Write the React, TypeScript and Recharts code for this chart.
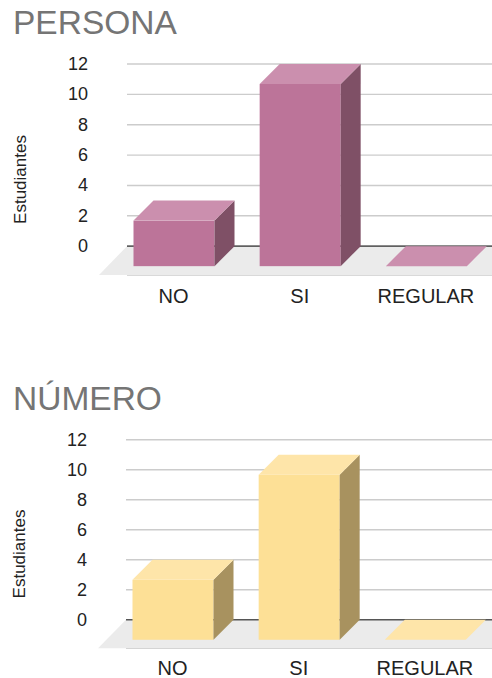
import { BarChart, Bar, XAxis, YAxis, CartesianGrid, ReferenceArea } from 'recharts';

const categories = ['NO', 'SI', 'REGULAR'];
const personaValues = [3, 12, 0];
const numeroValues = [4, 11, 0];
const yTicks = [0, 2, 4, 6, 8, 10, 12];
const floorDepth = -1.9;

const font = '"Liberation Sans", Arial, sans-serif';
const depth = 20;
const axisPadLeft = 3.5;

const rosePalette = { front: '#bc7499', top: '#cb8fae', side: '#7f5066' };
const sandPalette = { front: '#fde096', top: '#fee5a9', side: '#a8925f' };

// bar drawn as a box: the scale gives the back face, the front is pushed down-left
function Box3D(props: any) {
  const { x, y, width, height, palette } = props;
  const h = Math.max(height || 0, 0);
  const fx = x - depth;
  const fy = y + depth;
  return (
    <g>
      {h > 0 && <rect x={fx} y={fy} width={width} height={h} fill={palette.front} />}
      {h > 0 && (
        <polygon
          points={`${fx + width},${fy} ${x + width},${y} ${x + width},${y + h} ${fx + width},${fy + h}`}
          fill={palette.side}
        />
      )}
      <polygon
        points={`${fx},${fy} ${x},${y} ${x + width},${y} ${fx + width},${fy}`}
        fill={palette.top}
      />
    </g>
  );
}

// grey floor plus the zero line, both under the bars
function Floor(props: any) {
  const { x, y, width, height, zeroColor } = props;
  const left = x - axisPadLeft;
  return (
    <g>
      <polygon
        points={`${left},${y} ${x + width},${y} ${x + width},${y + height} ${left - 28},${y + height}`}
        fill="#ebebeb"
      />
      <line x1={left} y1={y} x2={x + width} y2={y} stroke={zeroColor} strokeWidth={1.4} />
    </g>
  );
}

function AxisTitle(props: any) {
  const { viewBox } = props;
  const cy = viewBox.y + viewBox.height / 2 + 10;
  return (
    <text
      x={25.5}
      y={cy}
      transform={`rotate(-90 25.5 ${cy})`}
      textAnchor="middle"
      fontSize={17}
      fontFamily={font}
      fill="#222"
    >
      Estudiantes
    </text>
  );
}

function Panel({ title, values, palette, left, top, height, marginTop, axisHeight, labelGap, titleLeft, titleTop, zeroColor }: any) {
  const data = categories.map((name, i) => ({ name, value: values[i] }));
  return (
    <div style={{ position: 'absolute', left: 0, top, width: 492, height, overflow: 'hidden' }}>
      <div style={{ position: 'absolute', left, top: 0 }}>
        <BarChart
          width={512}
          height={height}
          data={data}
          margin={{ top: marginTop, right: 0, bottom: 0, left: 0 }}
          barSize={81}
        >
          <CartesianGrid horizontal vertical={false} stroke="#cccccc" strokeWidth={1.4} />
          <XAxis
            dataKey="name"
            axisLine={false}
            tickLine={false}
            interval={0}
            height={axisHeight}
            padding={{ left: axisPadLeft, right: 3 }}
            tickMargin={labelGap}
            tick={{ fontSize: 20, fontFamily: font, fill: '#222', dx: -20 }}
          />
          <YAxis
            width={127}
            domain={[floorDepth, 12]}
            ticks={yTicks}
            interval={0}
            axisLine={false}
            tickLine={false}
            tickSize={0}
            tickMargin={39}
            tick={{ fontSize: 18, fontFamily: font, fill: '#222', dy: -0.5 }}
            label={{ content: <AxisTitle /> }}
          />
          <ReferenceArea y1={0} y2={floorDepth} shape={<Floor zeroColor={zeroColor} />} ifOverflow="visible" />
          <Bar
            dataKey="value"
            isAnimationActive={false}
            shape={(p: any) => <Box3D {...p} palette={palette} />}
          />
        </BarChart>
      </div>
      <div
        style={{
          position: 'absolute',
          left: titleLeft,
          top: titleTop,
          fontFamily: font,
          fontSize: 33.5,
          lineHeight: '38px',
          color: '#757575',
          whiteSpace: 'nowrap',
        }}
      >
        {title}
      </div>
    </div>
  );
}

export default function App() {
  return (
    <div style={{ position: 'absolute', left: 0, top: 0, width: 492, height: 678, overflow: 'hidden', background: '#fff' }}>
      <Panel title="PERSONA" values={personaValues} palette={rosePalette} left={0} top={0} height={320} marginTop={64} axisHeight={45} labelGap={8} titleLeft={13} titleTop={4} zeroColor="#333333" />
      <Panel title="NÚMERO" values={numeroValues} palette={sandPalette} left={-0.7} top={370} height={308} marginTop={69.7} axisHeight={29.7} labelGap={6} titleLeft={13} titleTop={10} zeroColor="#555555" />
    </div>
  );
}
